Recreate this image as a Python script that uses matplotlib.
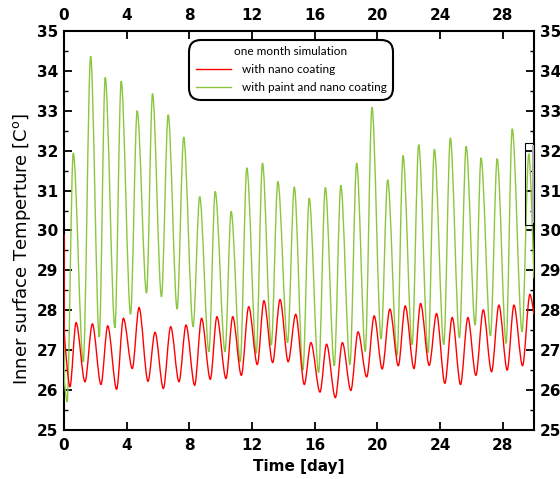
import numpy as np
import matplotlib
matplotlib.use('Agg')
import matplotlib.pyplot as plt
from matplotlib.path import Path
from matplotlib.patches import PathPatch, Rectangle
from matplotlib.lines import Line2D
from matplotlib.ticker import MultipleLocator

# ---- data (daily extrema) ----
red_start_day = [0.0, 0.02]
red_start_val = [29.9, 27.4]
red_trough_day = [0.38, 1.34, 2.36, 3.36, 4.36, 5.36, 6.34, 7.34, 8.34, 9.34,
                  10.34, 11.32, 12.34, 13.32, 14.31, 15.34, 16.34, 17.32, 18.31, 19.32,
                  20.31, 21.34, 22.34, 23.31, 24.31, 25.31, 26.29, 27.29, 28.29, 29.27]
red_trough = [26.08, 26.21, 26.14, 26.02, 26.54, 26.22, 26.04, 26.21, 26.12, 26.27,
              26.29, 26.37, 26.64, 26.69, 26.71, 26.14, 25.95, 25.81, 25.99, 26.33,
              26.53, 26.61, 26.54, 26.62, 26.17, 26.14, 26.37, 26.46, 26.50, 26.61]
red_peak_day = [0.77, 1.81, 2.79, 3.79, 4.79, 5.81, 6.81, 7.79, 8.78, 9.76,
                10.77, 11.79, 12.76, 13.79, 14.79, 15.76, 16.76, 17.77, 18.77, 19.80,
                20.80, 21.78, 22.76, 23.78, 24.78, 25.78, 26.76, 27.76, 28.72, 29.74]
red_peak = [27.69, 27.66, 27.61, 27.80, 28.07, 27.45, 27.59, 27.63, 27.80, 27.84,
            27.84, 28.09, 28.24, 28.27, 27.90, 27.19, 27.15, 27.19, 27.46, 27.86,
            28.03, 28.11, 28.17, 27.92, 27.82, 27.82, 28.01, 28.13, 28.13, 28.40]
red_end = (30.0, 27.9)

green_start_day = [0.0, 0.03]
green_start_val = [27.6, 26.2]
green_trough_day = [0.20, 1.23, 2.25, 3.25, 4.25, 5.27, 6.22, 7.22, 8.24, 9.25,
                    10.28, 11.25, 12.27, 13.23, 14.27, 15.25, 16.25, 17.25, 18.25, 19.23,
                    20.24, 21.26, 22.22, 23.24, 24.24, 25.24, 26.24, 27.22, 28.22, 29.24]
green_trough = [25.70, 26.71, 27.33, 27.56, 27.90, 28.43, 28.34, 28.03, 27.59, 26.96,
                26.96, 26.71, 26.92, 27.13, 27.19, 26.50, 26.44, 26.61, 26.64, 26.97,
                27.28, 26.87, 27.14, 26.94, 27.14, 27.31, 27.63, 27.36, 27.17, 27.46]
green_peak_day = [0.59, 1.70, 2.63, 3.65, 4.67, 5.65, 6.65, 7.64, 8.66, 9.65,
                  10.67, 11.67, 12.67, 13.65, 14.70, 15.65, 16.68, 17.67, 18.68, 19.66,
                  20.66, 21.64, 22.64, 23.64, 24.66, 25.67, 26.62, 27.65, 28.61, 29.67]
green_peak = [31.94, 34.37, 33.84, 33.74, 33.00, 33.43, 32.90, 32.34, 30.85, 30.98,
              30.48, 31.57, 31.69, 31.23, 31.09, 30.81, 31.08, 31.13, 31.69, 33.09,
              31.27, 31.88, 32.15, 32.04, 32.32, 32.11, 31.82, 31.80, 32.55, 31.92]
green_end = (30.0, 28.8)

labels = ["with nano coating", "with paint and nano coating"]
colors = ["#ff0000", "#8cc63f"]
x_ticks = [0, 4, 8, 12, 16, 20, 24, 28]
y_ticks = [25, 26, 27, 28, 29, 30, 31, 32, 33, 34, 35]

plt.rcParams['font.weight'] = 'bold'


def wave_path(sd, sv, td, tv, pd, pv, end):
    ext = sorted(list(zip(td, tv)) + list(zip(pd, pv)))
    verts = [(sd[0], sv[0])]
    codes = [Path.MOVETO]
    for d, v in zip(sd[1:], sv[1:]):
        verts.append((d, v))
        codes.append(Path.LINETO)
    prev = verts[-1]
    prev_ext = False
    pts = ext + [end]
    for i, p in enumerate(pts):
        is_ext = i < len(ext)
        dx = p[0] - prev[0]
        c1 = (prev[0] + 0.32 * dx, prev[1]) if prev_ext else prev
        c2 = (p[0] - 0.32 * dx, p[1]) if is_ext else p
        verts += [c1, c2, p]
        codes += [Path.CURVE4] * 3
        prev = p
        prev_ext = is_ext
    return Path(verts, codes)


fig = plt.figure(figsize=(5.6, 4.79), dpi=100)
ax = fig.add_axes([64 / 560, 1 - 430 / 479, 470 / 560, 399 / 479])

p_red = wave_path(red_start_day, red_start_val, red_trough_day, red_trough,
                  red_peak_day, red_peak, red_end)
p_green = wave_path(green_start_day, green_start_val, green_trough_day, green_trough,
                    green_peak_day, green_peak, green_end)
ax.add_patch(PathPatch(p_green, facecolor='none', edgecolor=colors[1], lw=1.0, zorder=3))
ax.add_patch(PathPatch(p_red, facecolor='none', edgecolor=colors[0], lw=1.0, zorder=4))

ax.set_xlim(0, 30)
ax.set_ylim(25, 35)
ax.set_xticks(x_ticks)
ax.set_yticks(y_ticks)
ax.yaxis.set_minor_locator(MultipleLocator(0.5))
ax.tick_params(which='both', direction='in', top=True, right=True,
               labeltop=True, labelright=True)
ax.tick_params(which='major', length=6, width=1.3, labelsize=11, pad=4)
ax.tick_params(axis='x', which='major', pad=6)
ax.tick_params(which='minor', length=3, width=1.0)
for s in ax.spines.values():
    s.set_linewidth(1.5)

ax.set_xlabel("Time [day]", fontsize=11, fontweight='bold', labelpad=4)
ax.set_ylabel(r"Inner surface Temperture [C$^\mathregular{o}$]", fontsize=13,
              fontweight='normal', family='DejaVu Sans')
ax.yaxis.set_label_coords(-0.067, 0.455)

handles = [Line2D([], [], color=c, lw=1.0) for c in colors]
leg = ax.legend(handles, labels, title="one month simulation", loc='upper center',
                bbox_to_anchor=(0.483, 0.978),
                prop={'family': 'Lato', 'size': 8.5, 'weight': 'normal'},
                handlelength=3.0, frameon=True, fancybox=True, borderpad=0.55,
                labelspacing=0.6, handletextpad=0.9, borderaxespad=0)
leg.get_title().set_family('Lato')
leg.get_title().set_fontsize(8.5)
leg.get_title().set_fontweight('normal')
fr = leg.get_frame()
fr.set_edgecolor('black')
fr.set_linewidth(1.5)
fr.set_alpha(1)
fr.set_boxstyle('round', pad=0.0, rounding_size=1.0)

# small selection-box artifact at the right edge
ax.add_patch(Rectangle((29.45, 30.13), 0.58, 2.06, fill=False, edgecolor='black',
                       lw=0.8, clip_on=False, zorder=5))
ax.add_patch(Rectangle((29.85, 30.2), 0.16, 1.95, facecolor='#b0b0b0',
                       edgecolor='none', clip_on=False, zorder=4))

fig.savefig("out.png", dpi=100)
